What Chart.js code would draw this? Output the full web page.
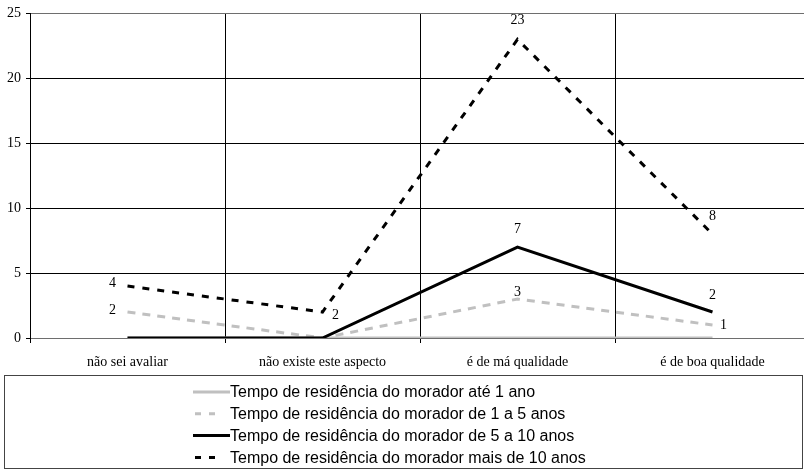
<!DOCTYPE html>
<html>
<head>
<meta charset="utf-8">
<script src="https://cdn.jsdelivr.net/npm/chart.js@4/dist/chart.umd.min.js"></script>
<style>
  html, body { margin: 0; padding: 0; background: #fff; overflow: hidden; }
  #wrap { width: 812px; height: 470px; }
</style>
</head>
<body>
<div id="wrap"><canvas id="residencia" width="812" height="470"></canvas></div>
<script>
const categories = ["não sei avaliar", "não existe este aspecto", "é de má qualidade", "é de boa qualidade"];
const seriesNames = [
  "Tempo de residência do morador até 1 ano",
  "Tempo de residência do morador de 1 a 5 anos",
  "Tempo de residência do morador de 5 a 10 anos",
  "Tempo de residência do morador mais de 10 anos"
];
const ate1 = [0, 0, 0, 0];
const de1a5 = [2, 0, 3, 1];
const de5a10 = [0, 0, 7, 2];
const mais10 = [4, 2, 23, 8];
const yTicks = [0, 5, 10, 15, 20, 25];

// where each value label sits relative to its point (px)
const labelOffsets = [
  [null, null, null, null],
  [[-15, -2], null, [0, -7], [11, 0]],
  [null, null, [0, -18], [0, -17]],
  [[-15, -3], [13, 3], [0, -19], [0, -18]]
];

const serif = "'Liberation Serif', 'Times New Roman', serif";
const sans = "'Liberation Sans', Arial, sans-serif";

const valueLabels = {
  id: "valueLabels",
  afterDatasetsDraw(chart) {
    const ctx = chart.ctx;
    ctx.save();
    ctx.font = "14px " + serif;
    ctx.fillStyle = "#000";
    ctx.textAlign = "center";
    ctx.textBaseline = "middle";
    chart.data.datasets.forEach((ds, i) => {
      const meta = chart.getDatasetMeta(i);
      ds.data.forEach((v, j) => {
        const off = labelOffsets[i][j];
        if (!off) return;
        const pt = meta.data[j];
        ctx.fillText(String(v), pt.x + off[0], pt.y + off[1]);
      });
    });
    ctx.restore();
  }
};

const boxLegend = {
  id: "boxLegend",
  afterDraw(chart) {
    const ctx = chart.ctx;
    ctx.save();
    ctx.strokeStyle = "#444";
    ctx.lineWidth = 1;
    ctx.strokeRect(4.5, 375.5, 798, 93);
    ctx.font = "16px " + sans;
    ctx.textBaseline = "middle";
    ctx.fillStyle = "#000";
    chart.data.datasets.forEach((ds, i) => {
      const y = 392 + i * 21.8;
      ctx.beginPath();
      ctx.strokeStyle = ds.borderColor;
      ctx.lineWidth = 3;
      if (ds.borderDash.length) {
        ctx.setLineDash([6, 8]);
        ctx.moveTo(195, y);
        ctx.lineTo(216, y);
      } else {
        ctx.setLineDash([]);
        ctx.moveTo(193, y);
        ctx.lineTo(230, y);
      }
      ctx.stroke();
      ctx.setLineDash([]);
      ctx.fillText(ds.label, 230, y + 1);
    });
    ctx.restore();
  }
};

const lineStyles = [
  { color: "#c0c0c0", dash: [] },
  { color: "#c0c0c0", dash: [8, 7] },
  { color: "#000000", dash: [] },
  { color: "#000000", dash: [7, 8] }
];

const seriesData = [ate1, de1a5, de5a10, mais10];

new Chart(document.getElementById("residencia"), {
  type: "line",
  data: {
    labels: categories,
    datasets: seriesData.map((d, i) => ({
      label: seriesNames[i],
      data: d,
      borderColor: lineStyles[i].color,
      borderDash: lineStyles[i].dash,
      borderWidth: 3,
      borderCapStyle: "butt",
      pointRadius: 0,
      tension: 0,
      fill: false,
      order: 3 - i
    }))
  },
  options: {
    responsive: false,
    animation: false,
    layout: { padding: { top: 11, left: 0, right: 2, bottom: 0 } },
    plugins: {
      legend: { display: false },
      tooltip: { enabled: false }
    },
    scales: {
      x: {
        offset: true,
        afterFit(scale) { scale.height = 132; },
        grid: {
          offset: true,
          color: "#000",
          lineWidth: 1,
          drawTicks: true,
          tickLength: 5
        },
        border: { color: "#6e6e6e", width: 1 },
        ticks: {
          color: "#000",
          font: { family: serif, size: 14 },
          padding: 11,
          maxRotation: 0,
          autoSkip: false
        }
      },
      y: {
        min: 0,
        max: 25,
        afterFit(scale) { scale.width = 30; },
        afterBuildTicks(scale) { scale.ticks = yTicks.map(v => ({ value: v })); },
        grid: {
          color: (c) => (c.tick && (c.tick.value === 0 || c.tick.value === 25)) ? "#6e6e6e" : "#000",
          tickColor: "#000",
          lineWidth: 1,
          tickLength: 4
        },
        border: { color: "#000", width: 1 },
        ticks: {
          color: "#000",
          font: { family: serif, size: 14 },
          padding: 5
        }
      }
    }
  },
  plugins: [valueLabels, boxLegend]
});
</script>
</body>
</html>
